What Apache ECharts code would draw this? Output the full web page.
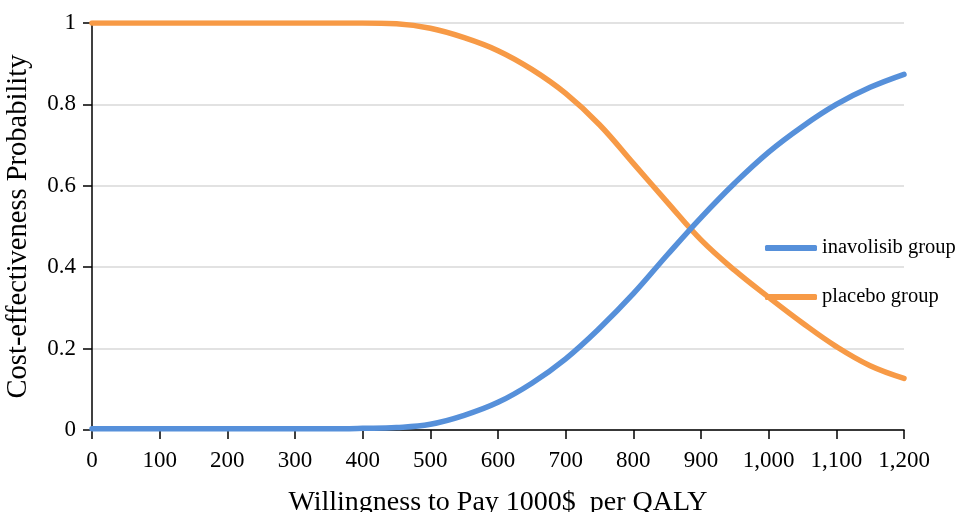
<!DOCTYPE html>
<html>
<head>
<meta charset="utf-8">
<script src="https://cdn.jsdelivr.net/npm/echarts@6/dist/echarts.min.js"></script>
<style>
html,body{margin:0;padding:0;background:#fff;}
#chart{width:962px;height:512px;}
</style>
</head>
<body>
<div id="chart"></div>
<script>
const wtp = [0,50,100,150,200,250,300,350,400,450,500,550,600,650,700,750,800,850,900,950,1000,1050,1100,1150,1200];
const inavolisib = [0.003,0.003,0.003,0.003,0.003,0.003,0.003,0.003,0.004,0.006,0.014,0.036,0.068,0.115,0.175,0.25,0.335,0.43,0.522,0.607,0.683,0.746,0.8,0.842,0.874];
const placebo = [1,1,1,1,1,1,1,1,1,0.998,0.987,0.964,0.932,0.886,0.827,0.75,0.655,0.56,0.467,0.392,0.326,0.263,0.205,0.158,0.127];
const xTicks = [0,100,200,300,400,500,600,700,800,900,1000,1100,1200];
const yTicks = [0,0.2,0.4,0.6,0.8,1];
const seriesNames = ['inavolisib group','placebo group'];

const font = '"Liberation Serif","Times New Roman",serif';
const chart = echarts.init(document.getElementById('chart'));
const pair = (xs, ys) => xs.map((x, i) => [x, ys[i]]);
chart.setOption({
  animation: false,
  backgroundColor: '#fff',
  textStyle: { fontFamily: font, color: '#000' },
  grid: { left: 92, right: 58, top: 23, bottom: 82, containLabel: false, outerBoundsMode: 'none' },
  legend: {
    orient: 'vertical',
    left: 760,
    top: 232,
    icon: 'roundRect',
    itemWidth: 52,
    itemHeight: 6,
    itemGap: 27,
    textStyle: { fontFamily: font, fontSize: 20.5, lineHeight: 22, color: '#000' },
    data: seriesNames
  },
  xAxis: {
    type: 'value',
    min: xTicks[0],
    max: xTicks[xTicks.length - 1],
    interval: 100,
    name: 'Willingness to Pay 1000$  per QALY',
    nameLocation: 'middle',
    nameGap: 59,
    nameTextStyle: { fontFamily: font, fontSize: 28, color: '#000' },
    axisLine: { show: true, lineStyle: { color: '#000', width: 1.5 } },
    axisTick: { show: true, inside: false, length: 9, lineStyle: { color: '#000', width: 1.5 } },
    axisLabel: {
      fontFamily: font, fontSize: 23, color: '#000', margin: 19,
      formatter: v => v.toLocaleString('en-US')
    },
    splitLine: { show: false }
  },
  yAxis: {
    type: 'value',
    min: yTicks[0],
    max: yTicks[yTicks.length - 1],
    interval: 0.2,
    name: 'Cost-effectiveness Probability',
    nameLocation: 'middle',
    nameGap: 59,
    nameTextStyle: { fontFamily: font, fontSize: 28.5, color: '#000' },
    axisLine: { show: true, lineStyle: { color: '#000', width: 1.5 } },
    axisTick: { show: true, inside: false, length: 9, lineStyle: { color: '#000', width: 1.5 } },
    axisLabel: {
      fontFamily: font, fontSize: 23, color: '#000', margin: 16,
      formatter: v => String(Math.round(v * 10) / 10)
    },
    splitLine: { show: true, lineStyle: { color: '#d9d9d9', width: 1.5 } }
  },
  series: [
    {
      name: seriesNames[0], type: 'line', data: pair(wtp, inavolisib),
      smooth: 0.4, symbol: 'none', z: 3,
      lineStyle: { color: '#5690DA', width: 5.5, cap: 'round' },
      itemStyle: { color: '#5690DA' }
    },
    {
      name: seriesNames[1], type: 'line', data: pair(wtp, placebo),
      smooth: 0.4, symbol: 'none', z: 2,
      lineStyle: { color: '#F79A46', width: 5.5, cap: 'round' },
      itemStyle: { color: '#F79A46' }
    }
  ]
});
</script>
</body>
</html>
